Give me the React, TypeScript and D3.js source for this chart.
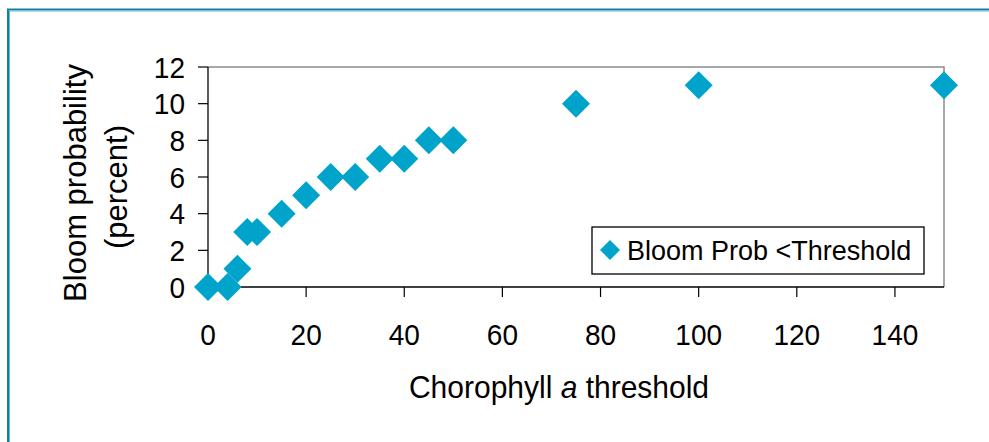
import React from "react";
import * as d3 from "d3";

const thresholds = [0, 4, 6, 8, 10, 15, 20, 25, 30, 35, 40, 45, 50, 75, 100, 150];
const probabilities = [0, 0, 1, 3, 3, 4, 5, 6, 6, 7, 7, 8, 8, 10, 11, 11];
const xTicks = [0, 20, 40, 60, 80, 100, 120, 140];
const yTicks = [0, 2, 4, 6, 8, 10, 12];
const seriesName = "Bloom Prob <Threshold";

const W = 989;
const H = 442;
const left = 208;
const right = 944;
const top = 67;
const bottom = 287;
const COLOR = "#00A3CA";
const FONT = "Liberation Sans, Arial, Helvetica, sans-serif";

export default function App() {
  const x = d3.scaleLinear().domain([0, 150]).range([left, right]);
  const y = d3.scaleLinear().domain([0, 12]).range([bottom, top]);
  const diamond = d3.symbol().type(d3.symbolSquare).size(392)();
  const legendDiamond = d3.symbol().type(d3.symbolSquare).size(200)();

  return (
    <svg
      width={W}
      height={H}
      style={{ position: "absolute", left: 0, top: 0, background: "#fff" }}
      fontFamily={FONT}
    >
      {/* outer frame */}
      <path d={`M8,${H + 5} V9.5 H${W + 5}`} fill="none" stroke="#1b7c9c" strokeWidth={2} />
      <path d={`M9.5,${H + 5} V11 H${W + 5}`} fill="none" stroke="#5cc0dd" strokeWidth={1} />

      {/* plot frame top/right */}
      <path d={`M${left},${top} H${right} V${bottom}`} fill="none" stroke="#8c8c8c" strokeWidth={1.5} />
      {/* axes */}
      <line x1={left} x2={right} y1={bottom} y2={bottom} stroke="#000" strokeWidth={1.3} />
      <line x1={left} x2={left} y1={top} y2={bottom} stroke="#000" strokeWidth={1.3} />

      {yTicks.map((t) => (
        <g key={"y" + t}>
          <line x1={left - 10} x2={left} y1={y(t)} y2={y(t)} stroke="#000" strokeWidth={1.2} />
          <text
            transform={`translate(185,${y(t) + 10.5}) scale(1,1.04)`}
            textAnchor="end"
            fontSize={28}
            fill="#000"
          >
            {t}
          </text>
        </g>
      ))}
      {xTicks.map((t) => (
        <g key={"x" + t}>
          <line x1={x(t)} x2={x(t)} y1={bottom} y2={bottom + 10} stroke="#000" strokeWidth={1.2} />
          <text
            transform={`translate(${x(t)},345) scale(1,1.05)`}
            textAnchor="middle"
            fontSize={28}
            fill="#000"
          >
            {t}
          </text>
        </g>
      ))}

      {/* axis titles */}
      <text
        transform={`translate(86,183) rotate(-90)`}
        textAnchor="middle"
        fontSize={31}
        fill="#000"
      >
        Bloom probability
      </text>
      <text
        transform={`translate(127,187) rotate(-90)`}
        textAnchor="middle"
        fontSize={31}
        fill="#000"
      >
        (percent)
      </text>
      <text
        transform="translate(559,398) scale(1,1.05)"
        textAnchor="middle"
        fontSize={30}
        fill="#000"
      >
        Chorophyll <tspan fontStyle="italic">a</tspan> threshold
      </text>

      {/* points */}
      {thresholds.map((t, i) => (
        <path
          key={"p" + i}
          d={diamond}
          transform={`translate(${x(t)},${y(probabilities[i])}) rotate(45)`}
          fill={COLOR}
        />
      ))}

      {/* legend */}
      <rect x={592} y={227} width={332} height={47} fill="#fff" stroke="#000" strokeWidth={1.3} />
      <path d={legendDiamond} transform="translate(610,250) rotate(45)" fill={COLOR} />
      <text transform="translate(627,260) scale(1,1.04)" fontSize={27} fill="#000">
        {seriesName}
      </text>
    </svg>
  );
}
